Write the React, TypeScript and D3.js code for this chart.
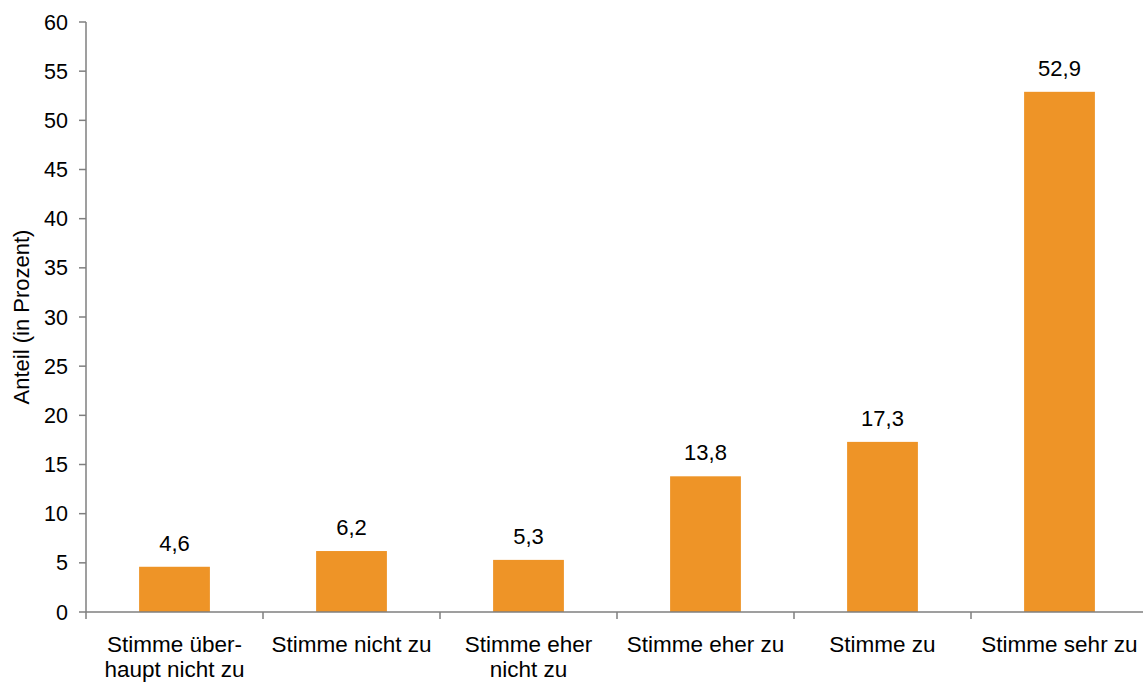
import React from "react";
import * as d3 from "d3";

const categories: string[][] = [
  ["Stimme über-", "haupt nicht zu"],
  ["Stimme nicht zu"],
  ["Stimme eher", "nicht zu"],
  ["Stimme eher zu"],
  ["Stimme zu"],
  ["Stimme sehr zu"],
];
const values: number[] = [4.6, 6.2, 5.3, 13.8, 17.3, 52.9];
const yTicks: number[] = [0, 5, 10, 15, 20, 25, 30, 35, 40, 45, 50, 55, 60];
const yTitle = "Anteil (in Prozent)";

const W = 1143;
const H = 684;
const margin = { left: 86, top: 22, right: -5, bottom: 72 };

export default function App() {
  const x = d3
    .scaleBand<number>()
    .domain(values.map((_, i) => i))
    .range([margin.left, W - margin.right])
    .paddingInner(0.6)
    .paddingOuter(0.3);
  const y = d3
    .scaleLinear()
    .domain([0, 60])
    .range([H - margin.bottom, margin.top]);
  const step = x.step();
  const bw = x.bandwidth();
  const font = "'Liberation Sans', Arial, sans-serif";
  const axisColor = "#7f7f7f";
  const y0 = y(0);
  const boundaries = d3.range(values.length + 1).map((i) => margin.left + i * step);

  return (
    <svg
      width={W}
      height={H}
      style={{ position: "absolute", left: 0, top: 0, display: "block" }}
      fontFamily={font}
    >
      <rect x={0} y={0} width={W} height={H} fill="#fff" />
      {values.map((v, i) => (
        <g key={i}>
          <rect x={x(i)} y={y(v)} width={bw} height={y0 - y(v)} fill="#EE9427" />
          <text
            x={(x(i) as number) + bw / 2}
            y={y(v) - 16}
            textAnchor="middle"
            fontSize={22}
            fill="#000"
          >
            {v.toFixed(1).replace(".", ",")}
          </text>
        </g>
      ))}
      {/* y axis */}
      <line x1={margin.left} x2={margin.left} y1={y(60)} y2={y0} stroke={axisColor} strokeWidth={1.5} />
      {yTicks.map((t) => (
        <g key={t}>
          <line x1={margin.left - 7} x2={margin.left} y1={y(t)} y2={y(t)} stroke={axisColor} strokeWidth={1.5} />
          <text
            x={margin.left - 18}
            y={y(t)}
            dy="0.35em"
            textAnchor="end"
            fontSize={21.5}
            fill="#000"
          >
            {t}
          </text>
        </g>
      ))}
      {/* x axis */}
      <line x1={margin.left} x2={W} y1={y0} y2={y0} stroke={axisColor} strokeWidth={1.5} />
      {boundaries.map((bx, i) => (
        <line key={i} x1={bx} x2={bx} y1={y0} y2={y0 + 7} stroke={axisColor} strokeWidth={1.5} />
      ))}
      {categories.map((lines, i) => (
        <text
          key={i}
          x={(x(i) as number) + bw / 2}
          y={652}
          textAnchor="middle"
          fontSize={22.5}
          fill="#000"
        >
          {lines.map((l, j) => (
            <tspan key={j} x={(x(i) as number) + bw / 2} dy={j === 0 ? 0 : 25}>
              {l}
            </tspan>
          ))}
        </text>
      ))}
      <text
        transform={`translate(${29},${(y(60) + y0) / 2}) rotate(-90)`}
        textAnchor="middle"
        fontSize={22}
        fill="#000"
      >
        {yTitle}
      </text>
    </svg>
  );
}
